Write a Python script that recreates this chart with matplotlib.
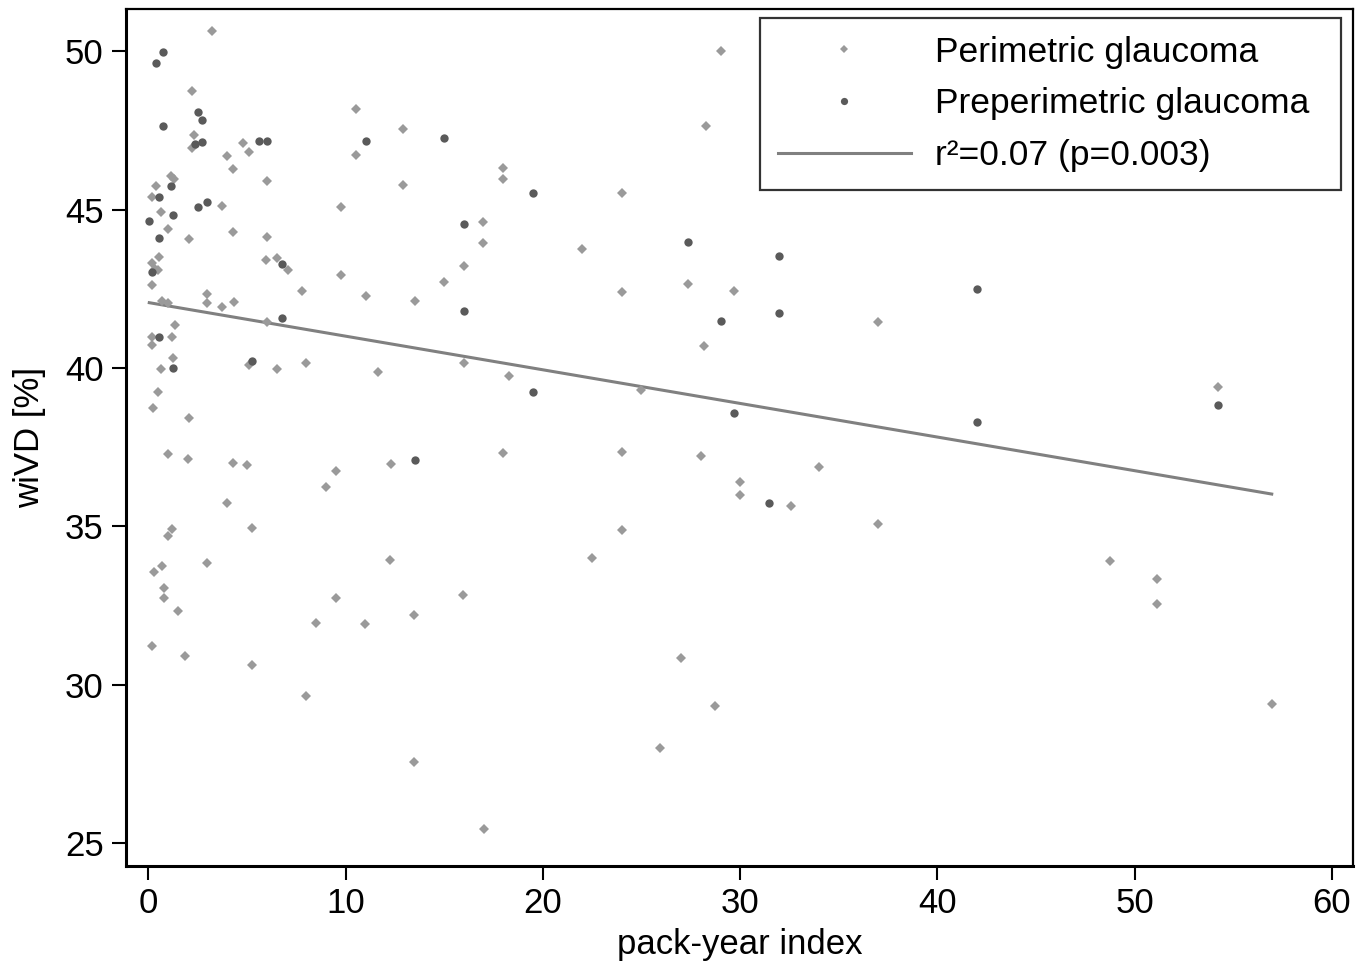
import matplotlib
matplotlib.use("Agg")
import matplotlib.pyplot as plt
from matplotlib.lines import Line2D

plt.rcParams['font.family'] = ['Liberation Sans', 'DejaVu Sans']

# Perimetric glaucoma (pack-year index, wiVD %)
peri_x = [3.24, 2.20, 2.32, 2.20, 4.80, 5.09, 3.99, 4.28, 6.00, 9.75,
          1.14, 1.32, 0.39, 0.19, 0.64, 3.75, 1.00, 2.06, 4.28, 6.00,
          0.56, 0.19, 0.51, 0.34, 0.19, 5.97, 6.51, 7.10, 9.75, 7.79,
          2.99, 2.99, 4.34, 3.74, 0.68, 1.01, 1.35, 0.19, 0.19, 1.20,
          1.24, 0.64, 5.10, 6.51, 7.99, 6.00, 0.51, 0.24, 2.06, 1.00,
          2.00, 4.29, 4.99, 9.50, 9.01, 3.99, 1.20, 1.00, 5.26, 0.69,
          0.29, 2.99, 0.80, 0.80, 1.51, 9.50, 8.50, 0.19, 1.88, 5.26,
          7.99, 10.51, 10.51, 12.91, 12.91, 11.05, 13.50, 15.00, 15.99, 16.98,
          16.98, 17.99, 17.99, 11.66, 15.99, 18.28, 12.30, 17.98, 12.25, 13.47,
          10.98, 15.95, 13.47, 17.01, 22.00, 23.99, 23.99, 24.99, 23.99, 23.99,
          22.49, 25.93, 27.00, 28.72, 29.03, 28.27, 27.37, 28.18, 29.69, 28.00,
          29.99, 29.99, 32.57, 33.99, 37.00, 37.00, 48.74, 51.14, 51.14, 54.23,
          56.95]
peri_y = [50.64, 48.73, 47.35, 46.93, 47.11, 46.82, 46.70, 46.29, 45.89, 45.07,
          46.07, 45.95, 45.75, 45.40, 44.93, 45.12, 44.40, 44.08, 44.30, 44.14,
          43.51, 43.30, 43.09, 43.13, 42.61, 43.40, 43.46, 43.09, 42.93, 42.43,
          42.33, 42.04, 42.08, 41.91, 42.11, 42.04, 41.35, 40.97, 40.72, 40.97,
          40.33, 39.97, 40.09, 39.97, 40.15, 41.44, 39.24, 38.74, 38.41, 37.29,
          37.12, 36.99, 36.94, 36.74, 36.24, 35.73, 34.93, 34.70, 34.94, 33.76,
          33.55, 33.84, 33.05, 32.75, 32.32, 32.73, 31.96, 31.21, 30.90, 30.62,
          29.64, 48.17, 46.73, 47.53, 45.78, 42.27, 42.12, 42.70, 43.22, 44.61,
          43.93, 46.31, 45.96, 39.88, 40.15, 39.74, 36.97, 37.31, 33.94, 32.20,
          31.92, 32.83, 27.56, 25.45, 43.74, 45.53, 42.39, 39.29, 37.34, 34.89,
          34.00, 28.00, 30.85, 29.33, 50.00, 47.63, 42.66, 40.68, 42.43, 37.22,
          36.39, 35.98, 35.63, 36.88, 41.45, 35.06, 33.92, 33.33, 32.54, 39.41,
          29.39]

# Preperimetric glaucoma
pre_x = [0.76, 0.39, 0.76, 2.50, 2.72, 2.72, 2.37, 5.60, 6.00, 11.05,
         15.00, 2.50, 2.99, 0.56, 1.15, 1.24, 0.05, 0.53, 6.76, 0.20,
         15.99, 19.50, 27.37, 31.98, 42.00, 6.76, 0.56, 5.26, 1.24, 15.99,
         29.03, 31.98, 19.50, 29.69, 42.00, 54.23, 13.50, 31.49]
pre_y = [49.98, 49.61, 47.63, 48.07, 47.82, 47.13, 47.06, 47.16, 47.16, 47.15,
         47.26, 45.09, 45.24, 45.40, 45.74, 44.82, 44.64, 44.09, 43.27, 43.02,
         44.53, 45.53, 43.97, 43.53, 42.48, 41.58, 40.98, 40.23, 40.00, 41.80,
         41.48, 41.72, 39.25, 38.57, 38.31, 38.84, 37.08, 35.73]

# Linear fit line endpoints
fit_x = [0.05, 56.95]
fit_y = [42.06, 36.02]

x_ticks = [0, 10, 20, 30, 40, 50, 60]
y_ticks = [25, 30, 35, 40, 45, 50]

peri_color = '#9a9a9a'
pre_color = '#5a5a5a'
line_color = '#808080'

fig = plt.figure(figsize=(13.70, 9.67), dpi=100)
ax = fig.add_axes([126/1370, 1 - 866/967, (1353-126)/1370, (866-9)/967])

ax.plot(peri_x, peri_y, linestyle='none', marker='D', markersize=5.4,
        color=peri_color, markeredgewidth=0, zorder=3)
ax.plot(pre_x, pre_y, linestyle='none', marker='o', markersize=6.0,
        color=pre_color, markeredgewidth=0, zorder=4)
ax.plot(fit_x, fit_y, color=line_color, linewidth=2.2, zorder=2)

ax.set_xlim(-1.13, 61.07)
ax.set_ylim(24.28, 51.33)
ax.set_xticks(x_ticks)
ax.set_yticks(y_ticks)
ax.tick_params(axis='both', which='major', direction='out', length=10,
               width=1.5, labelsize=25, color='black')
ax.tick_params(axis='x', pad=5)
ax.tick_params(axis='y', pad=6)
for s in ['left', 'bottom']:
    ax.spines[s].set_linewidth(2.2)
for s in ['top', 'right']:
    ax.spines[s].set_linewidth(1.6)

ax.set_xlabel('pack-year index', fontsize=25, labelpad=6)
ax.set_ylabel('wiVD [%]', fontsize=25, labelpad=14)

handles = [
    Line2D([], [], linestyle='none', marker='D', markersize=4.2,
           color=peri_color, markeredgewidth=0),
    Line2D([], [], linestyle='none', marker='o', markersize=5.2,
           color=pre_color, markeredgewidth=0),
    Line2D([], [], color=line_color, linewidth=2.2),
]
labels = ['Perimetric glaucoma', 'Preperimetric glaucoma',
          'r\u00b2=0.07 (p=0.003)']
leg = ax.legend(handles, labels, loc='upper left',
                bbox_to_anchor=(760/1370, 1 - 186/967,
                                (1341-760)/1370, (186-18)/967),
                bbox_transform=fig.transFigure, mode='expand',
                fontsize=25.5, frameon=True, fancybox=False,
                edgecolor='black', handlelength=3.75, handletextpad=0.68,
                labelspacing=0.53, borderpad=0.5, borderaxespad=0)
leg.get_frame().set_linewidth(1.6)

fig.savefig('out.png', dpi=100)
